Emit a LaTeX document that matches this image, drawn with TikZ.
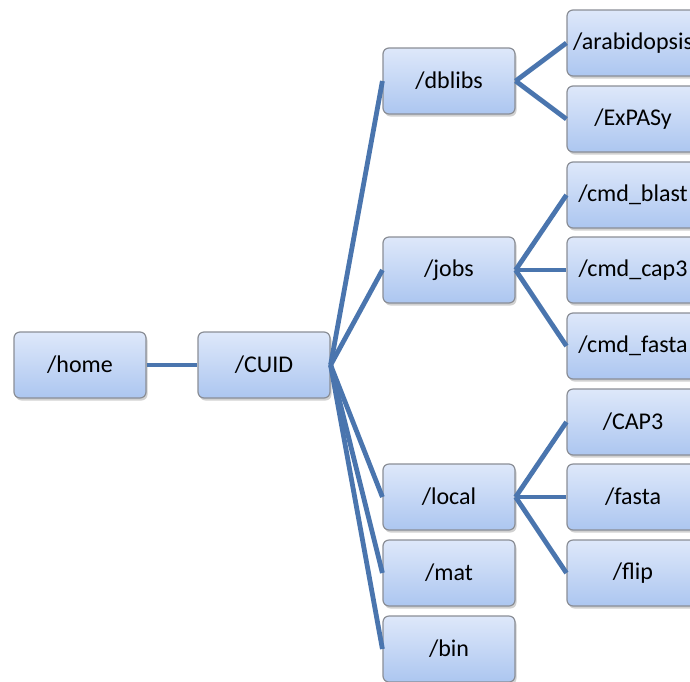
\documentclass[tikz,border=0pt]{standalone}
\usepackage{fontspec}
\setmainfont{Carlito}
\usetikzlibrary{shadows}
\definecolor{linkblue}{RGB}{74,117,174}
\definecolor{boxtop}{RGB}{222,232,250}
\definecolor{boxbottom}{RGB}{172,198,240}
\definecolor{boxedge}{RGB}{138,142,150}
\tikzset{
  dirbox/.style={draw=boxedge, line width=1.2pt, rounded corners=6pt,
    top color=boxtop, bottom color=boxbottom,
    minimum width=132pt, minimum height=66pt, inner sep=0pt,
    font=\fontsize{24}{28}\selectfont,
    drop shadow={shadow xshift=1.5pt, shadow yshift=-2.5pt, opacity=0.3, fill=black!60}},
  link/.style={draw=linkblue, line width=4.8pt}
}
\begin{document}
\begin{tikzpicture}[x=1pt, y=-1pt]
  \useasboundingbox (0,0) rectangle (690,681);
  \clip (0,0) rectangle (690,681);
  % root chain
  \node[dirbox] (home) at (80,365) {/home};
  \node[dirbox] (cuid) at (264,365) {/CUID};
  % second level
  \node[dirbox] (dblibs) at (449,81) {/dblibs};
  \node[dirbox] (jobs) at (449,270) {/jobs};
  \node[dirbox] (local) at (449,497) {/local};
  \node[dirbox] (mat) at (449,573) {/mat};
  \node[dirbox] (bin) at (449,649) {/bin};
  % third level
  \node[dirbox] (arab) at (633,43) {/arabidopsis};
  \node[dirbox] (expasy) at (633,119) {/ExPASy};
  \node[dirbox] (blast) at (633,195) {/cmd\_blast};
  \node[dirbox] (cap3cmd) at (633,270) {/cmd\_cap3};
  \node[dirbox] (fastacmd) at (633,346) {/cmd\_fasta};
  \node[dirbox] (cap3) at (633,422) {/CAP3};
  \node[dirbox] (fasta) at (633,497) {/fasta};
  \node[dirbox] (flip) at (633,573) {/flip};
  % connectors
  \draw[link] (home.east) -- (cuid.west);
  \foreach \t in {dblibs,jobs,local,mat,bin}
    \draw[link] (cuid.east) -- (\t.west);
  \foreach \t in {arab,expasy}
    \draw[link] (dblibs.east) -- (\t.west);
  \foreach \t in {blast,cap3cmd,fastacmd}
    \draw[link] (jobs.east) -- (\t.west);
  \foreach \t in {cap3,fasta,flip}
    \draw[link] (local.east) -- (\t.west);
\end{tikzpicture}
\end{document}
